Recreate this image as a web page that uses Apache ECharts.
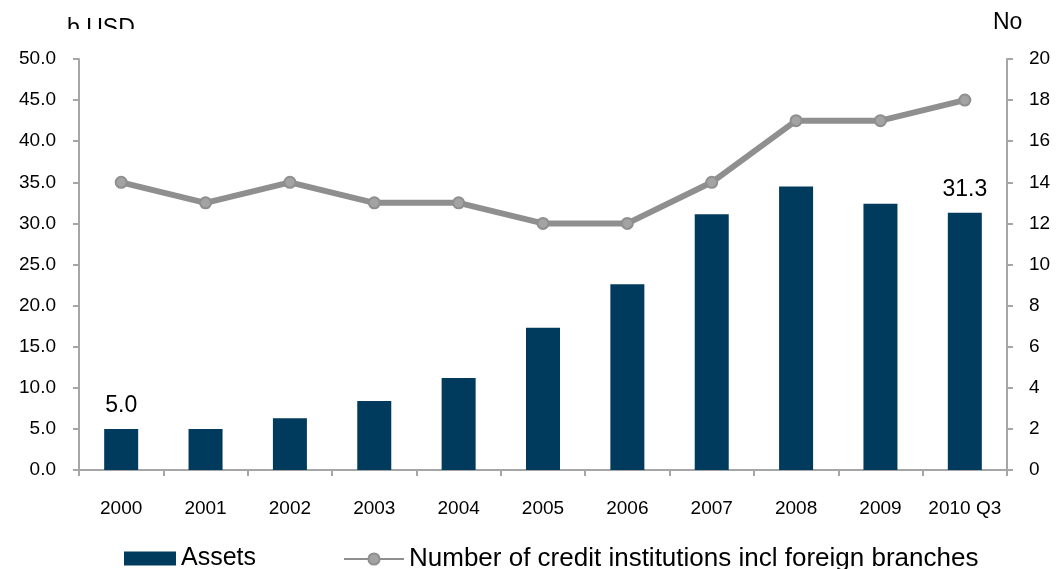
<!DOCTYPE html>
<html><head><meta charset="utf-8">
<script src="https://cdn.jsdelivr.net/npm/echarts@6/dist/echarts.min.js"></script>
<style>html,body{margin:0;padding:0;background:#fff}#c{width:1057px;height:569px}</style>
</head><body><div id="c"></div>
<script>
const categories = ['2000','2001','2002','2003','2004','2005','2006','2007','2008','2009','2010 Q3'];
const assets = [5.0, 5.0, 6.3, 8.4, 11.2, 17.3, 22.6, 31.1, 34.5, 32.4, 31.3];
const institutions = [14, 13, 14, 13, 13, 12, 12, 14, 17, 17, 18];
const leftTicks = {min: 0, max: 50, interval: 5};
const rightTicks = {min: 0, max: 20, interval: 2};
const labelledBars = [0, 10];
const leftUnit = 'b USD';
const rightUnit = 'No';

const chart = echarts.init(document.getElementById('c'), null, {renderer: 'canvas'});
const font = 'Liberation Sans, Arial, sans-serif';
const axisGray = '#a6a6a6';
const lineName = 'Number of credit institutions incl foreign branches';
chart.setOption({
  animation: false,
  textStyle: {fontFamily: font},
  grid: {left: 79, right: 50, top: 59, bottom: 99},
  legend: [
    {top: 541, left: 119, itemWidth: 52, itemHeight: 14, itemGap: 0,
     textStyle: {fontSize: 25, color: '#000', fontFamily: font},
     data: [{name: 'Assets', icon: 'rect'}]},
    {top: 541, left: 338, itemWidth: 60, itemHeight: 14,
     textStyle: {fontSize: 26, color: '#000', fontFamily: font},
     data: [{name: lineName}]}
  ],
  xAxis: {
    type: 'category', data: categories,
    axisLine: {lineStyle: {color: axisGray, width: 2}},
    axisTick: {show: true, length: 6, lineStyle: {color: axisGray, width: 2}},
    axisLabel: {color: '#000', fontSize: 19, margin: 29, interval: 0}
  },
  yAxis: [
    {type: 'value', min: leftTicks.min, max: leftTicks.max, interval: leftTicks.interval,
     axisLine: {show: true, lineStyle: {color: axisGray, width: 2}},
     axisTick: {show: true, length: 6, lineStyle: {color: axisGray, width: 2}},
     splitLine: {show: false},
     axisLabel: {color: '#000', fontSize: 19, margin: 23, formatter: v => v.toFixed(1)}},
    {type: 'value', min: rightTicks.min, max: rightTicks.max, interval: rightTicks.interval,
     axisLine: {show: true, lineStyle: {color: axisGray, width: 2}},
     axisTick: {show: true, length: 6, lineStyle: {color: axisGray, width: 2}},
     splitLine: {show: false},
     axisLabel: {color: '#000', fontSize: 19, margin: 22}}
  ],
  graphic: [
    {type: 'text', z: 50, left: 67, top: 17, style: {text: leftUnit, fontSize: 23, fill: '#000', fontFamily: font}},
    {type: 'text', z: 50, left: 993, top: 11, style: {text: rightUnit, fontSize: 23, fill: '#000', fontFamily: font}},
    {type: 'rect', z: 100, left: 0, top: 29, shape: {width: 1057, height: 20}, style: {fill: '#fff'}}
  ],
  series: [
    {name: 'Assets', type: 'bar', yAxisIndex: 0, barWidth: 34,
     itemStyle: {color: '#003a5c'},
     data: assets.map((v, i) => labelledBars.includes(i)
       ? {value: v, label: {show: true, position: 'top', distance: 12, fontSize: 23, color: '#000', formatter: p => p.value.toFixed(1)}}
       : v)},
    {name: lineName, type: 'line', yAxisIndex: 1,
     data: institutions, symbol: 'circle', symbolSize: 11,
     lineStyle: {color: '#8f8f8f', width: 6},
     itemStyle: {color: '#a3a3a3', borderColor: '#8f8f8f', borderWidth: 2}}
  ]
});
</script></body></html>
